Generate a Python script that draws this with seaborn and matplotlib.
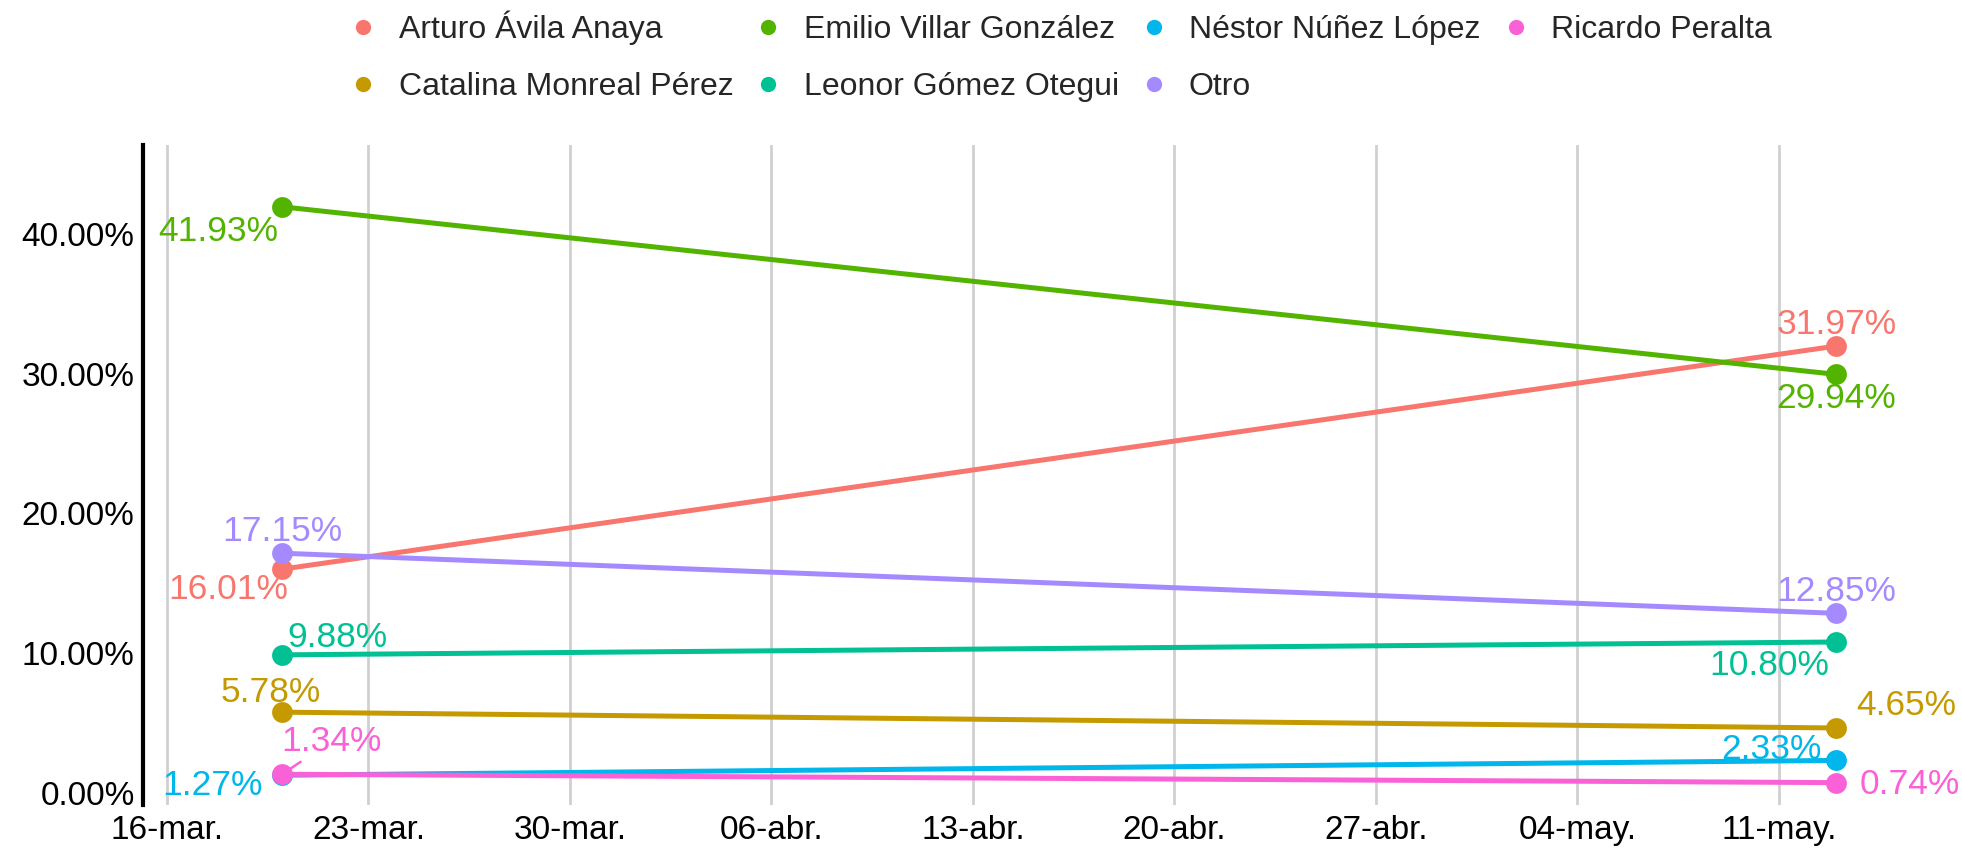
import matplotlib
matplotlib.use("Agg")
import matplotlib.pyplot as plt
import matplotlib.dates as mdates
from matplotlib.lines import Line2D
from matplotlib.ticker import FuncFormatter, FixedLocator
import seaborn as sns
import pandas as pd

# Datos
candidatos = ["Arturo Ávila Anaya", "Catalina Monreal Pérez", "Emilio Villar González",
              "Leonor Gómez Otegui", "Néstor Núñez López", "Otro", "Ricardo Peralta"]
colores = ["#F8766D", "#C49A00", "#53B400", "#00C094", "#00B6EB", "#A58AFF", "#FB61D7"]
fechas = ["2019-03-20", "2019-05-13"]
pct_marzo = [16.01, 5.78, 41.93, 9.88, 1.27, 17.15, 1.34]
pct_mayo = [31.97, 4.65, 29.94, 10.80, 2.33, 12.85, 0.74]
meses = ["ene.", "feb.", "mar.", "abr.", "may.", "jun.",
         "jul.", "ago.", "sept.", "oct.", "nov.", "dic."]
y_ticks = [0, 10, 20, 30, 40]

df = pd.DataFrame({
    "candidato": candidatos * 2,
    "fecha": pd.to_datetime([fechas[0]] * len(candidatos) + [fechas[1]] * len(candidatos)),
    "pct": pct_marzo + pct_mayo,
})

# desplazamiento de las etiquetas (pixeles) para cada fecha
desp = {
    0: {"Arturo Ávila Anaya": (-54, -20), "Catalina Monreal Pérez": (-11, 20),
        "Emilio Villar González": (-64, -25), "Leonor Gómez Otegui": (55, 17),
        "Néstor Núñez López": (-70, -10), "Otro": (0, 22), "Ricardo Peralta": (49, 33)},
    1: {"Arturo Ávila Anaya": (0, 22), "Catalina Monreal Pérez": (70, 22),
        "Emilio Villar González": (0, -24), "Leonor Gómez Otegui": (-67, -24),
        "Néstor Núñez López": (-65, 11), "Otro": (0, 22), "Ricardo Peralta": (73, -2)},
}

sns.set_theme(style="white")
plt.rcParams["font.family"] = ["Liberation Sans", "DejaVu Sans"]

W, H = 1962, 849
fig = plt.figure(figsize=(W / 100, H / 100), dpi=100)
ax = fig.add_axes([143 / W, (H - 805) / H, (1900 - 143) / W, 660 / H])

paleta = dict(zip(candidatos, colores))
sns.lineplot(data=df, x="fecha", y="pct", hue="candidato", hue_order=candidatos,
             palette=paleta, marker="o", markersize=15, markeredgewidth=0,
             linewidth=3.6, legend=False, ax=ax)

for i, fecha in enumerate(fechas):
    vals = pct_marzo if i == 0 else pct_mayo
    for cand, v in zip(candidatos, vals):
        dx, dy = desp[i][cand]
        props = None
        if cand == "Ricardo Peralta" and i == 0:
            props = dict(arrowstyle="-", color=paleta[cand], lw=1.8, shrinkA=1, shrinkB=5)
        ax.annotate(f"{v:.2f}%", xy=(mdates.date2num(pd.Timestamp(fecha)), v),
                    xytext=(dx, dy), textcoords="offset pixels",
                    ha="center", va="center", fontsize=25.5, color=paleta[cand],
                    annotation_clip=False, arrowprops=props)

ax.set_xlim(mdates.date2num(pd.Timestamp("2019-03-15 04:00")),
            mdates.date2num(pd.Timestamp("2019-05-15 05:00")))
ax.set_ylim(-0.86, 46.35)

ax.xaxis.set_major_locator(mdates.WeekdayLocator(byweekday=mdates.SA))
ax.xaxis.set_major_formatter(FuncFormatter(
    lambda x, _: f"{mdates.num2date(x).day:02d}-{meses[mdates.num2date(x).month - 1]}"))
ax.yaxis.set_major_locator(FixedLocator(y_ticks))
ax.yaxis.set_major_formatter(FuncFormatter(lambda y, _: f"{y:.2f}%"))

ax.tick_params(axis="both", length=0, labelsize=24, colors="black")
ax.tick_params(axis="y", pad=6)
ax.tick_params(axis="x", pad=7)
ax.set_xlabel("")
ax.set_ylabel("")

ax.grid(axis="x", color="#d0d0d0", linewidth=2)
ax.grid(axis="y", visible=False)
for s in ["top", "right", "bottom"]:
    ax.spines[s].set_visible(False)
ax.spines["left"].set_color("black")
ax.spines["left"].set_linewidth(3)

handles = [Line2D([], [], linestyle="none", marker="o", markersize=11,
                  markerfacecolor=c, markeredgewidth=0) for c in colores]
fig.legend(handles, candidatos, ncol=4, loc="upper center", bbox_to_anchor=(0.54, 0.995),
           frameon=False, fontsize=23, handlelength=1, handletextpad=0.6,
           columnspacing=0.6, labelspacing=0.85, borderaxespad=0.1, borderpad=0.1)

fig.savefig("out.png", dpi=100)
